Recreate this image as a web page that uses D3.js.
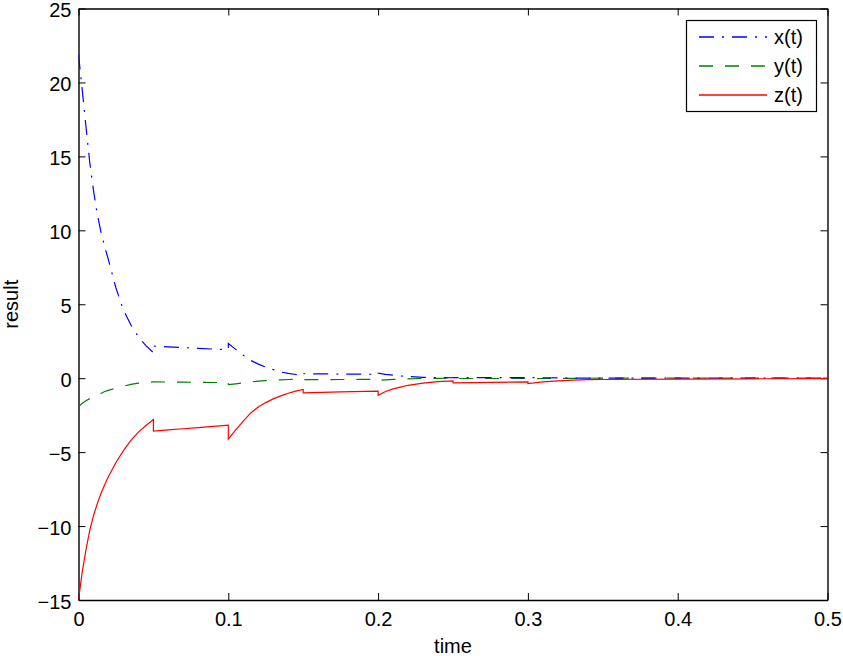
<!DOCTYPE html>
<html>
<head>
<meta charset="utf-8">
<script src="https://cdn.jsdelivr.net/npm/d3@7"></script>
<style>
  html, body { margin: 0; padding: 0; background: #fff; }
  svg { display: block; font-family: "Liberation Sans", Arial, Helvetica, sans-serif; }
</style>
</head>
<body>
<svg id="chart" width="843" height="656"></svg>
<script>
// ---- data ----
const time = [
  0, 0.0025, 0.005, 0.0075, 0.01, 0.0125, 0.015, 0.0175, 0.02, 0.025, 0.03, 0.035, 0.04, 0.045, 0.05,
  0.05, 0.06, 0.07, 0.08, 0.09, 0.1,
  0.1, 0.105, 0.11, 0.115, 0.12, 0.125, 0.13, 0.135, 0.14, 0.145, 0.15,
  0.15, 0.175, 0.2,
  0.2, 0.205, 0.21, 0.215, 0.22, 0.23, 0.24, 0.25,
  0.25, 0.275, 0.3,
  0.3, 0.31, 0.32, 0.33, 0.34, 0.35,
  0.35, 0.4, 0.45, 0.5
];
const xSeries = [
  21.9, 19.5, 17.0, 14.6, 12.7, 11.1, 9.9, 8.9, 8.0, 6.1, 4.6, 3.6, 2.8, 2.2, 1.73,
  2.17, 2.12, 2.07, 2.02, 1.97, 1.93,
  2.34, 1.95, 1.55, 1.2, 0.95, 0.75, 0.58, 0.42, 0.32, 0.25, 0.2,
  0.3, 0.28, 0.26,
  0.34, 0.26, 0.2, 0.15, 0.11, 0.06, 0.04, 0.03,
  0.04, 0.04, 0.035,
  0.045, 0.03, 0.02, 0.01, 0.01, 0.005,
  0.006, 0.005, 0.003, 0.002
];
const ySeries = [
  -1.94, -1.7, -1.52, -1.38, -1.26, -1.14, -1.03, -0.9, -0.82, -0.67, -0.54, -0.42, -0.34, -0.29, -0.25,
  -0.25, -0.26, -0.27, -0.28, -0.29, -0.3,
  -0.43, -0.38, -0.32, -0.26, -0.2, -0.16, -0.13, -0.11, -0.09, -0.08, -0.07,
  -0.1, -0.09, -0.08,
  -0.14, -0.11, -0.08, -0.06, -0.04, -0.02, -0.01, 0,
  -0.02, -0.02, -0.02,
  -0.03, -0.02, -0.015, -0.01, -0.005, 0,
  0, 0, 0, 0
];
const zSeries = [
  -15, -13.1, -11.6, -10.3, -9.3, -8.5, -7.8, -7.2, -6.65, -5.7, -4.9, -4.2, -3.65, -3.2, -2.79,
  -3.58, -3.5, -3.42, -3.34, -3.26, -3.18,
  -4.12, -3.5, -2.9, -2.35, -1.95, -1.65, -1.4, -1.2, -1.02, -0.88, -0.76,
  -0.99, -0.93, -0.88,
  -1.15, -0.9, -0.72, -0.6, -0.48, -0.33, -0.23, -0.18,
  -0.31, -0.28, -0.25,
  -0.36, -0.25, -0.18, -0.13, -0.1, -0.08,
  -0.09, -0.06, -0.04, -0.03
];
const xTicks = [0, 0.1, 0.2, 0.3, 0.4, 0.5];
const yTicks = [-15, -10, -5, 0, 5, 10, 15, 20, 25];
const seriesNames = ["x(t)", "y(t)", "z(t)"];
const seriesColors = ["#0000ff", "#008000", "#ff0000"];
const seriesDash = ["15,8,2,8", "14,12", null];

// ---- layout ----
const L = 78.5, R = 827.5, T = 8.5, B = 600;
const svg = d3.select("#chart");
const xs = d3.scaleLinear().domain([0, 0.5]).range([L, R]);
const ys = d3.scaleLinear().domain([-15, 25]).range([B, T]);

svg.append("defs").append("clipPath").attr("id", "clip")
  .append("rect").attr("x", L).attr("y", T).attr("width", R - L).attr("height", B - T);

const fmtX = d => d === 0 ? "0" : d3.format(".1f")(d);
const fmtY = d3.format("d");
const fontSize = 20;

function styleAxis(g) {
  g.selectAll(".domain").attr("stroke", "#000").attr("stroke-width", 1.4);
  g.selectAll(".tick line").attr("stroke", "#000").attr("stroke-width", 1);
  g.selectAll("text").attr("font-size", fontSize).attr("fill", "#000")
    .attr("font-family", "'Liberation Sans', Arial, sans-serif");
}

// bottom
svg.append("g").attr("transform", `translate(0,${B})`)
  .call(d3.axisBottom(xs).tickValues(xTicks).tickFormat(fmtX).tickSizeInner(-7).tickSizeOuter(0).tickPadding(12))
  .call(styleAxis)
  .selectAll("text").attr("dy", "0.71em").attr("y", 12);
// top
svg.append("g").attr("transform", `translate(0,${T})`)
  .call(d3.axisTop(xs).tickValues(xTicks).tickFormat("").tickSizeInner(-7).tickSizeOuter(0))
  .call(styleAxis);
// left
svg.append("g").attr("transform", `translate(${L},0)`)
  .call(d3.axisLeft(ys).tickValues(yTicks).tickFormat(fmtY).tickSizeInner(-7).tickSizeOuter(0).tickPadding(7))
  .call(styleAxis)
  .selectAll("text").attr("dy", "0.42em");
// right
svg.append("g").attr("transform", `translate(${R},0)`)
  .call(d3.axisRight(ys).tickValues(yTicks).tickFormat("").tickSizeInner(-7).tickSizeOuter(0))
  .call(styleAxis);

// ---- lines ----
const allSeries = [xSeries, ySeries, zSeries];
const lineGen = d3.line().x(d => xs(d[0])).y(d => ys(d[1]));
const plot = svg.append("g").attr("clip-path", "url(#clip)");
[1, 0, 2].forEach(i => {
  const pts = time.map((t, k) => [t, allSeries[i][k]]);
  plot.append("path").datum(pts)
    .attr("d", lineGen)
    .attr("fill", "none")
    .attr("stroke", seriesColors[i])
    .attr("stroke-width", 1.2)
    .attr("stroke-dasharray", seriesDash[i]);
});

// ---- axis labels ----
svg.append("text").attr("x", (L + R) / 2).attr("y", 653).attr("text-anchor", "middle")
  .attr("font-size", fontSize).text("time");
svg.append("text").attr("transform", `translate(18,${(T + B) / 2}) rotate(-90)`)
  .attr("text-anchor", "middle").attr("font-size", fontSize).text("result");

// ---- legend ----
const lg = svg.append("g");
lg.append("rect").attr("x", 686.5).attr("y", 20.5).attr("width", 130).attr("height", 91)
  .attr("fill", "#fff").attr("stroke", "#000").attr("stroke-width", 1.2);
const rowY = [37, 66, 95];
seriesNames.forEach((name, i) => {
  lg.append("line").attr("x1", 699).attr("x2", 767).attr("y1", rowY[i]).attr("y2", rowY[i])
    .attr("stroke", seriesColors[i]).attr("stroke-width", 1.3)
    .attr("stroke-dasharray", seriesDash[i]);
  lg.append("text").attr("x", 774).attr("y", rowY[i]).attr("dy", "0.35em")
    .attr("font-size", fontSize).text(name);
});
</script>
</body>
</html>
